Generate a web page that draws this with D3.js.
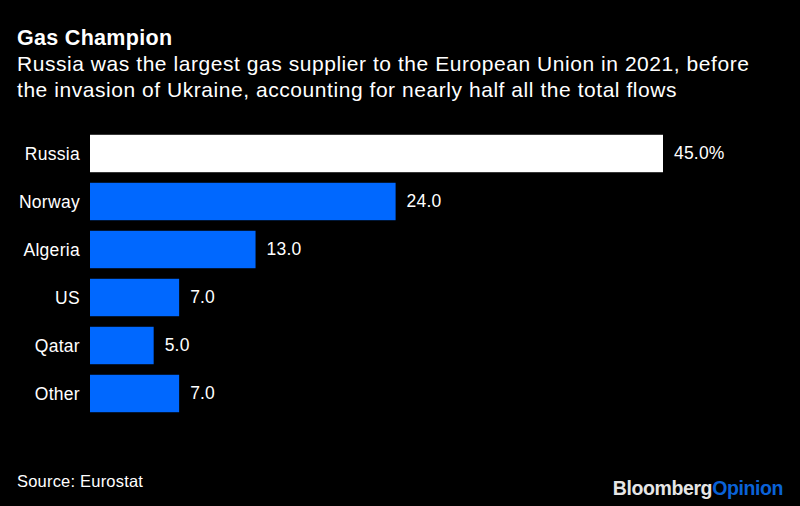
<!DOCTYPE html>
<html>
<head>
<meta charset="utf-8" />
<title>Gas Champion</title>
<script src="https://d3js.org/d3.v7.min.js"></script>
<style>
    html, body { margin: 0; padding: 0; background: #000; }
    text { font-family: "Liberation Sans", Arial, sans-serif; fill: #fff; }
</style>
</head>
<body>
<script>
    var categories = ["Russia", "Norway", "Algeria", "US", "Qatar", "Other"];
    var values = [45, 24, 13, 7, 5, 7];
    var valueLabels = ["45.0%", "24.0", "13.0", "7.0", "5.0", "7.0"];
    var subtitle = [
        "Russia was the largest gas supplier to the European Union in 2021, before",
        "the invasion of Ukraine, accounting for nearly half all the total flows"
    ];

    var w = 800, h = 506;
    var svg = d3.select("body").append("svg").attr("width", w).attr("height", h).style("display", "block");

    var x = d3.scaleLinear().domain([0, 45]).range([90, 663]);
    var y = d3.scaleBand().domain(categories).range([129.5, 417.5]).paddingInner(0.22).paddingOuter(0.11);

    // titles
    svg.append("text").attr("x", 17).attr("y", 45).attr("font-size", 21.5).attr("font-weight", 700)
        .attr("letter-spacing", 0.3).text("Gas Champion");
    svg.selectAll(".sub").data(subtitle).enter().append("text").attr("class", "sub")
        .attr("x", 17).attr("y", function (d, i) { return 71 + i * 26; })
        .attr("font-size", 21).attr("letter-spacing", 0.55).text(function (d) { return d; });

    // bars
    svg.selectAll("rect").data(categories).enter().append("rect")
        .attr("x", x(0))
        .attr("y", function (d) { return y(d); })
        .attr("width", function (d, i) { return x(values[i]) - x(0); })
        .attr("height", y.bandwidth())
        .attr("fill", function (d, i) { return i == 0 ? "#ffffff" : "#0068ff"; });

    // category labels
    svg.selectAll(".cat").data(categories).enter().append("text").attr("class", "cat")
        .attr("x", 80).attr("y", function (d) { return y(d) + y.bandwidth() / 2 + 6; })
        .attr("text-anchor", "end").attr("font-size", 17.5).attr("letter-spacing", 0.3)
        .text(function (d) { return d; });

    // value labels
    svg.selectAll(".val").data(categories).enter().append("text").attr("class", "val")
        .attr("x", function (d, i) { return x(values[i]) + 11; })
        .attr("y", function (d) { return y(d) + y.bandwidth() / 2 + 5; })
        .attr("font-size", 17.5).attr("letter-spacing", 0.2).text(function (d, i) { return valueLabels[i]; });

    // footer
    svg.append("text").attr("x", 17).attr("y", 487).attr("font-size", 16.5).attr("letter-spacing", 0.2)
        .text("Source: Eurostat");
    var logo = svg.append("text").attr("x", 783).attr("y", 495).attr("text-anchor", "end")
        .attr("font-size", 19.5).attr("font-weight", 700).attr("letter-spacing", -0.4);
    logo.append("tspan").style("fill", "#e6e6e6").text("Bloomberg");
    logo.append("tspan").style("fill", "#0a62d8").text("Opinion");
</script>
</body>
</html>
